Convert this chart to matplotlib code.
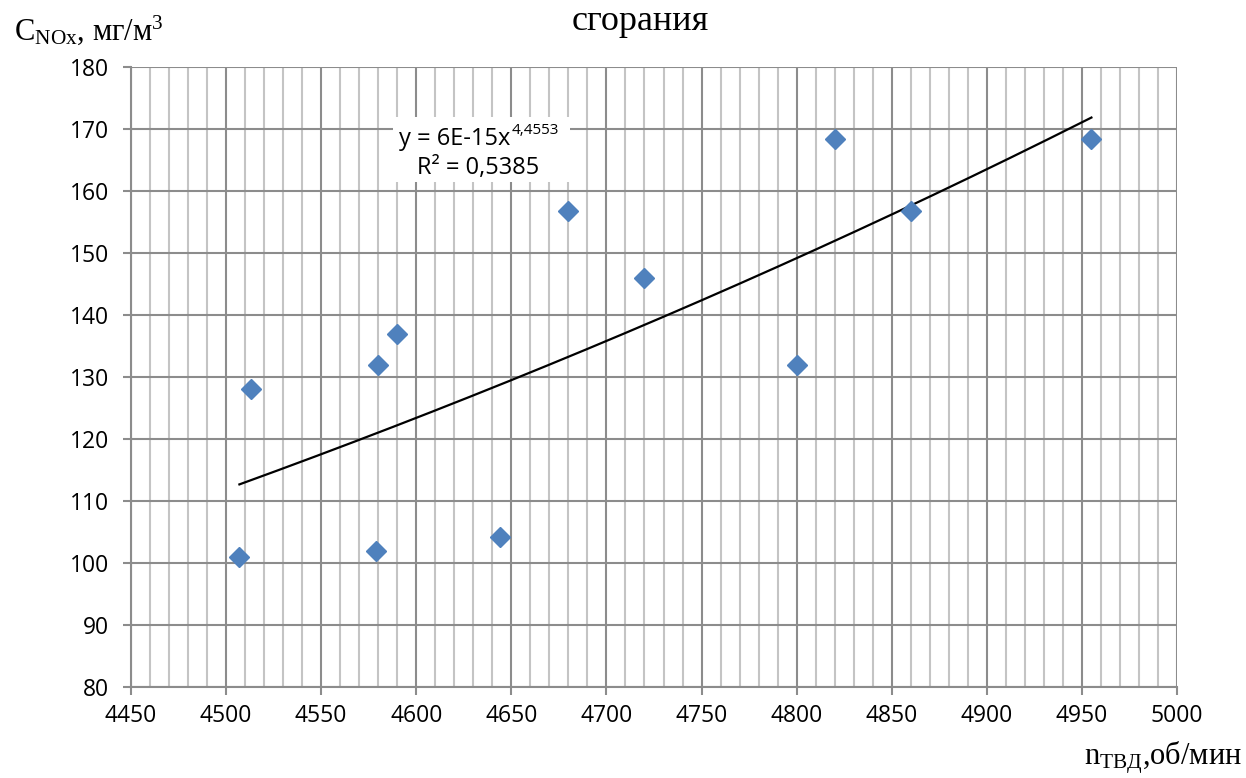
import numpy as np
import matplotlib
matplotlib.use("Agg")
import matplotlib.pyplot as plt
from matplotlib.ticker import MultipleLocator
from matplotlib.patches import Rectangle

# Data
n_tvd = [4507, 4513, 4579, 4580, 4590, 4644, 4680, 4720, 4800, 4820, 4860, 4955]
c_nox = [100.9, 128.0, 102.0, 132.0, 137.0, 104.2, 156.7, 146.0, 132.0, 168.4, 156.7, 168.4]
x_ticks = [4450, 4500, 4550, 4600, 4650, 4700, 4750, 4800, 4850, 4900, 4950, 5000]
y_ticks = [80, 90, 100, 110, 120, 130, 140, 150, 160, 170, 180]
eq_main = "y = 6E-15x"
eq_power = "4,4553"
eq_r2 = "R² = 0,5385"

plt.rcParams['mathtext.fontset'] = 'custom'
plt.rcParams['mathtext.rm'] = 'Liberation Serif'
plt.rcParams['mathtext.it'] = 'Liberation Serif:italic'
plt.rcParams['mathtext.bf'] = 'Liberation Serif:bold'

tick_font = 'Open Sans'
serif = 'Liberation Serif'
W, H = 1246, 778

fig = plt.figure(figsize=(12.46, 7.78), dpi=100)
ax = fig.add_axes([131 / W, 1 - 687 / H, (1177 - 131) / W, (687 - 67) / H])

# power trendline (least squares in log-log, as Excel does)
x = np.array(n_tvd, dtype=float)
y = np.array(c_nox, dtype=float)
b, ln_a = np.polyfit(np.log(x), np.log(y), 1)
xt = np.linspace(x.min(), x.max(), 200)
yt = np.exp(ln_a) * xt ** b

ax.plot(xt, yt, color='black', lw=1.6, zorder=3)
ax.plot(n_tvd, c_nox, linestyle='none', marker='D', ms=10, color='#4F81BD',
        markeredgecolor='#4F81BD', zorder=4)

ax.set_xlim(4450, 5000)
ax.set_ylim(80, 180)
ax.set_xticks(x_ticks)
ax.set_yticks(y_ticks)
ax.xaxis.set_minor_locator(MultipleLocator(10))

ax.grid(which='major', axis='both', color='#8C8C8C', lw=1.5)
ax.grid(which='minor', axis='x', color='#C4C4C4', lw=1.5)
ax.set_axisbelow(True)

for s in ['top', 'right']:
    ax.spines[s].set_visible(False)
for s in ['left', 'bottom']:
    ax.spines[s].set_color('#8C8C8C')
    ax.spines[s].set_linewidth(1.5)

ax.tick_params(which='major', length=6, width=1.5, color='#8C8C8C', direction='out',
               labelsize=16.5)
ax.tick_params(which='minor', length=0)
ax.tick_params(axis='x', pad=6)
ax.tick_params(axis='y', pad=10)
for lab in ax.get_xticklabels() + ax.get_yticklabels():
    lab.set_fontfamily(tick_font)

# trendline label box
fig.patches.append(Rectangle((393 / W, 1 - 182 / H), 177 / W, 65 / H,
                             transform=fig.transFigure, fc='white', ec='none', zorder=2))
t1 = fig.text(399 / W, 1 - 139 / H, eq_main, ha='left', va='center',
              fontsize=17, family=tick_font, zorder=3)
fig.text(478 / W, 1 - 168 / H, eq_r2, ha='center', va='center',
         fontsize=17, family=tick_font, zorder=3)
fig.canvas.draw()
bb = t1.get_window_extent()
fig.text(bb.x1 / W + 1 / W, 1 - 131 / H, eq_power, ha='left', va='center',
         fontsize=11, family=tick_font, zorder=3)

fig.text(640 / W, 1 - 22 / H, 'сгорания', ha='center', va='center',
         fontsize=26, family=serif)
fig.text(14 / W, 1 - 30 / H, 'C$_{\\mathrm{NOx}}$, мг/м$^{3}$', ha='left', va='center',
         fontsize=22, family=serif)
fig.text(1242 / W, 1 - 758 / H, 'n$_{\\mathrm{ТВД}}$,об/мин', ha='right', va='center',
         fontsize=22, family=serif)

fig.savefig('out.png', dpi=100)
